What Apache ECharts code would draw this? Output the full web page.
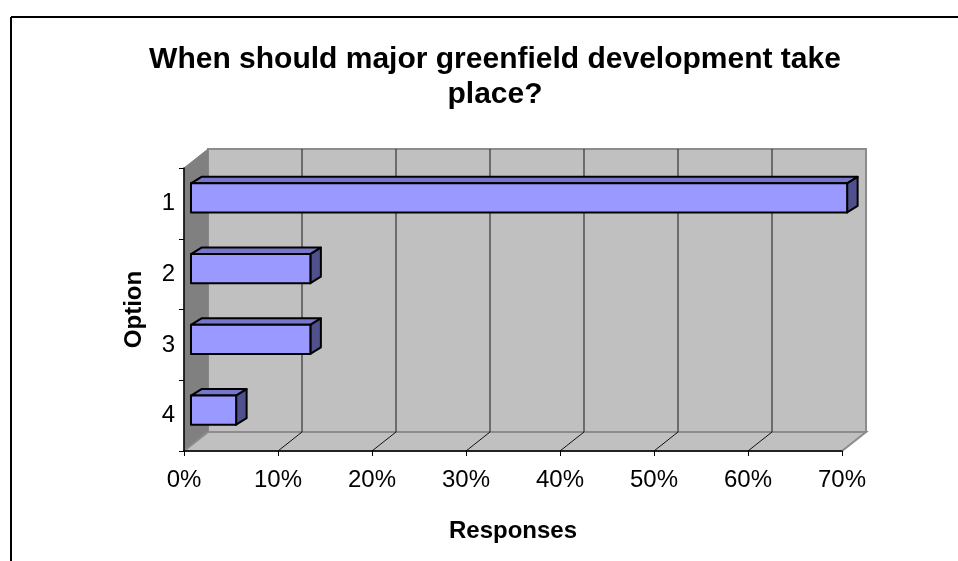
<!DOCTYPE html>
<html>
<head>
<meta charset="utf-8">
<script src="https://cdn.jsdelivr.net/npm/echarts@6/dist/echarts.min.js"></script>
<style>
html,body{margin:0;padding:0;background:#fff;}
#chart{width:958px;height:561px;}
</style>
</head>
<body>
<div id="chart"></div>
<script>
// ---- data ----
const titleText = 'When should major greenfield development take\nplace?';
const categories = ['1', '2', '3', '4'];
const responses = [0.698, 0.127, 0.127, 0.048];
const tickValues = [0, 0.1, 0.2, 0.3, 0.4, 0.5, 0.6, 0.7];
const xAxisName = 'Responses';
const yAxisName = 'Option';

// ---- styles ----
const FONT = 'Liberation Sans, Arial, sans-serif';
const DX = 24, DY = -19;            // wall depth
const BF = [7, -5.5], BB = [17.5, -12]; // bar front/back depth offsets

const chart = echarts.init(document.getElementById('chart'));

function wallsRender(params, api) {
  const cs = params.coordSys;
  const x0 = cs.x, y0 = cs.y, w = cs.width, h = cs.height;
  const children = [];
  children.push({type: 'rect', shape: {x: x0 + DX, y: y0 + DY, width: w, height: h},
    style: {fill: '#c0c0c0', stroke: '#8c8c8c', lineWidth: 2}});
  children.push({type: 'polygon', shape: {points: [[x0, y0], [x0 + DX, y0 + DY], [x0 + DX, y0 + h + DY], [x0, y0 + h]]},
    style: {fill: '#808080', stroke: '#808080', lineWidth: 1}});
  children.push({type: 'polygon', shape: {points: [[x0, y0 + h], [x0 + w, y0 + h], [x0 + w + DX, y0 + h + DY], [x0 + DX, y0 + h + DY]]},
    style: {fill: '#c0c0c0', stroke: '#8c8c8c', lineWidth: 2}});
  tickValues.forEach(function (v, i) {
    const xv = api.coord([v, 0])[0];
    if (i > 0 && i < tickValues.length - 1) {
      children.push({type: 'line', shape: {x1: xv + DX, y1: y0 + DY, x2: xv + DX, y2: y0 + h + DY},
        style: {stroke: '#333333', lineWidth: 1.2}});
      children.push({type: 'line', shape: {x1: xv, y1: y0 + h, x2: xv + DX, y2: y0 + h + DY},
        style: {stroke: '#111111', lineWidth: 1}});
    }
  });
  return {type: 'group', children: children};
}

function barRender(params, api) {
  const v = api.value(0), c = api.value(1);
  const p0 = api.coord([0, c]);
  const p1 = api.coord([v, c]);
  const band = api.size([0, 1])[1];
  const half = band * 0.205;
  const xl = p0[0], xr = p1[0], cy = p0[1];
  const t1 = cy + BF[1] - half, b1 = cy + BF[1] + half;
  const t2 = cy + BB[1] - half, b2 = cy + BB[1] + half;
  const border = {stroke: '#000', lineWidth: 2, lineJoin: 'round'};
  return {type: 'group', children: [
    {type: 'polygon', shape: {points: [[xl + BF[0], t1], [xr + BF[0], t1], [xr + BB[0], t2], [xl + BB[0], t2]]},
      style: Object.assign({fill: '#7676cc'}, border)},
    {type: 'polygon', shape: {points: [[xr + BF[0], t1], [xr + BB[0], t2], [xr + BB[0], b2], [xr + BF[0], b1]]},
      style: Object.assign({fill: '#50508c'}, border)},
    {type: 'rect', shape: {x: xl + BF[0], y: t1, width: xr - xl, height: b1 - t1},
      style: Object.assign({fill: '#9999ff'}, border)}
  ]};
}

chart.setOption({
  animation: false,
  backgroundColor: '#ffffff',
  title: {
    text: titleText,
    left: 490, top: 37, textAlign: 'center',
    textStyle: {fontFamily: FONT, fontWeight: 'bold', fontSize: 30, lineHeight: 35, color: '#000'}
  },
  graphic: [
    {type: 'line', shape: {x1: 11, y1: 17, x2: 958, y2: 17}, style: {stroke: '#000', lineWidth: 2}},
    {type: 'line', shape: {x1: 11, y1: 17, x2: 11, y2: 561}, style: {stroke: '#000', lineWidth: 2}}
  ],
  grid: {left: 184, top: 168, width: 658, height: 283, containLabel: false},
  xAxis: {
    type: 'value', min: 0, max: 0.7, interval: 0.1, z: 5,
    name: xAxisName, nameLocation: 'middle', nameGap: 68,
    nameTextStyle: {fontFamily: FONT, fontWeight: 'bold', fontSize: 24, color: '#000'},
    axisLine: {show: true, lineStyle: {color: '#000', width: 1.5}},
    axisTick: {show: true, length: 5, lineStyle: {color: '#000'}},
    splitLine: {show: false},
    axisLabel: {
      margin: 17, color: '#000', fontFamily: FONT, fontSize: 24,
      formatter: function (v) { return Math.round(v * 100) + '%'; }
    }
  },
  yAxis: {
    type: 'category', data: categories, inverse: true, z: 5,
    name: yAxisName, nameLocation: 'middle', nameGap: 38, nameRotate: 90,
    nameTextStyle: {fontFamily: FONT, fontWeight: 'bold', fontSize: 24, color: '#000'},
    axisLine: {show: true, lineStyle: {color: '#000', width: 1.5}},
    axisTick: {show: true, length: 5, lineStyle: {color: '#000'}},
    axisLabel: {margin: 9, color: '#000', fontFamily: FONT, fontSize: 24}
  },
  series: [
    {type: 'custom', z: 1, clip: false, silent: true, renderItem: wallsRender,
      data: [[0, 0]], encode: {x: 0, y: 1}},
    {type: 'custom', z: 6, clip: false, renderItem: barRender,
      data: responses.map(function (v, i) { return [v, i]; }), encode: {x: 0, y: 1}}
  ]
});
</script>
</body>
</html>
